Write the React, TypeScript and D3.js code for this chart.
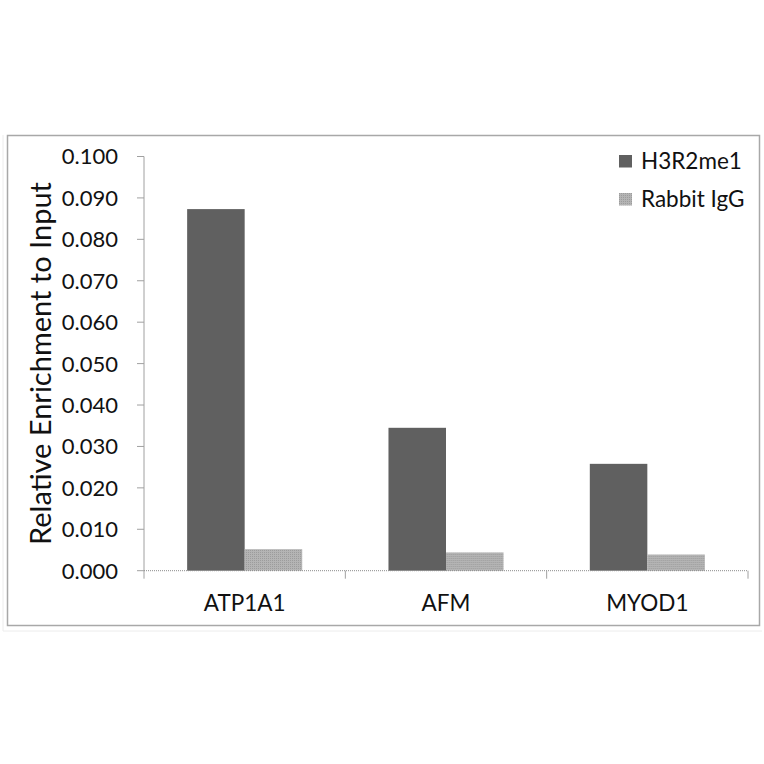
import React from "react";
import * as d3 from "d3";

const categories = ["ATP1A1", "AFM", "MYOD1"];
const seriesNames = ["H3R2me1", "Rabbit IgG"];
const h3r2me1 = [0.0873, 0.0345, 0.0258];
const rabbitIgG = [0.0052, 0.0044, 0.0039];
const yTicks = [0, 0.01, 0.02, 0.03, 0.04, 0.05, 0.06, 0.07, 0.08, 0.09, 0.1];
const colors = ["#606060", "#ababab"];

const FONT = "Lato, 'Open Sans', sans-serif";

export default function App() {
  const x0 = 144, x1 = 748, yTop = 156.5, yBot = 570.7;
  const y = d3.scaleLinear().domain([0, 0.1]).range([yBot, yTop]);
  const xb = d3.scaleBand().domain(categories).range([x0, x1]).paddingInner(0).paddingOuter(0);
  const inner = d3.scaleBand().domain(seriesNames).range([0, xb.bandwidth()]).paddingInner(0).paddingOuter(0.75);
  const series = [h3r2me1, rabbitIgG];

  return (
    <svg width={764} height={764} style={{ position: "absolute", left: 0, top: 0, background: "#fff" }}>
      <defs>
        <pattern id="dots" width="2" height="2" patternUnits="userSpaceOnUse">
          <rect width="2" height="2" fill="#b4b4b4" />
          <rect width="1" height="1" fill="#9c9c9c" />
        </pattern>
      </defs>
      <rect x={0} y={0} width={764} height={764} fill="#fff" />
      {/* faint outer shadow */}
      <line x1={3} x2={3} y1={135} y2={631} stroke="#ececec" strokeWidth={1} />
      <line x1={3} x2={762} y1={631} y2={631} stroke="#ececec" strokeWidth={1} />
      <rect x={7.5} y={135.5} width={752} height={490} fill="#fff" stroke="#a8a8a8" strokeWidth={1.5} />

      {/* y axis */}
      <line x1={x0} x2={x0} y1={yTop} y2={yBot} stroke="#a0a0a0" strokeWidth={1} />
      {yTicks.map((t) => (
        <g key={t}>
          <line x1={x0 - 7} x2={x0} y1={y(t)} y2={y(t)} stroke="#a0a0a0" strokeWidth={1} />
          <text x={118} y={y(t)} dy="0.36em" textAnchor="end" fontFamily={FONT} fontSize={22} fill="#111">
            {d3.format(".3f")(t)}
          </text>
        </g>
      ))}

      {/* bars */}
      {categories.map((c, i) => (
        <g key={c} transform={`translate(${xb(c)},0)`}>
          {series.map((s, j) => (
            <rect
              key={j}
              x={inner(seriesNames[j])}
              y={y(s[i])}
              width={inner.bandwidth()}
              height={yBot - y(s[i])}
              fill={j === 0 ? colors[0] : "url(#dots)"}
            />
          ))}
        </g>
      ))}

      {/* x axis */}
      <line x1={x0} x2={x1} y1={yBot} y2={yBot} stroke="#8a8a8a" strokeWidth={1} strokeDasharray="1 1" />
      {[x0, ...categories.map((c) => (xb(c) as number) + xb.bandwidth())].map((xx, i) => (
        <line key={i} x1={xx} x2={xx} y1={yBot} y2={yBot + 8} stroke="#a0a0a0" strokeWidth={1} />
      ))}
      {categories.map((c) => (
        <text key={c} x={(xb(c) as number) + xb.bandwidth() / 2} y={611} textAnchor="middle" fontFamily={FONT} fontSize={22.5} fill="#111">
          {c}
        </text>
      ))}

      {/* y title */}
      <text
        transform={`translate(51,363.5) rotate(-90)`}
        textAnchor="middle"
        fontFamily={FONT}
        fontSize={29}
        fill="#111"
      >
        Relative Enrichment to Input
      </text>

      {/* legend */}
      {seriesNames.map((n, j) => (
        <g key={n} transform={`translate(619,${155 + j * 38})`}>
          <rect width={13} height={12.5} fill={j === 0 ? colors[0] : "url(#dots)"} />
          <text x={22} y={13.5} fontFamily={FONT} fontSize={22.5} fill="#111">
            {n}
          </text>
        </g>
      ))}
    </svg>
  );
}
